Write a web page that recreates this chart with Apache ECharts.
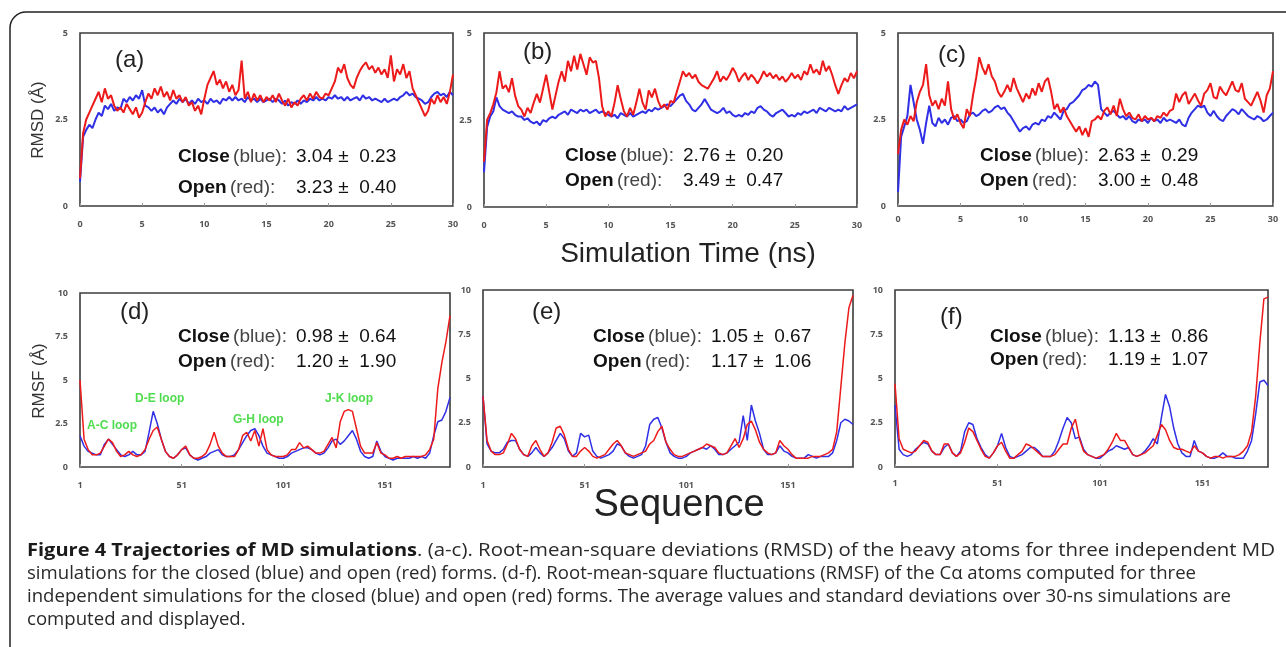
<!DOCTYPE html>
<html>
<head>
    <meta charset="utf-8">
    <title>Figure 4 Trajectories of MD simulations</title>
    <script src="https://cdn.jsdelivr.net/npm/echarts@6/dist/echarts.min.js"></script>
    <style>
        body { margin: 0; background: #fff; }
        #main { width: 1286px; height: 647px; }
    </style>
</head>
<body>
<div id="main"></div>
<script type="text/javascript">
    // RMSD, one sample every 0.25 ns, t = 0 .. 30
    var SAMPLE_NS = 0.25;
    var rmsdCloseA = [0.7,
        2.0, 2.2, 2.35, 2.25, 2.5, 2.7, 2.6, 2.9,
        2.8, 2.95, 2.75, 2.85, 2.8, 3.1, 3.0, 3.15,
        3.05, 3.2, 3.1, 3.35, 2.9, 2.85, 2.75, 2.85,
        2.7, 2.8, 2.65, 2.85, 2.95, 3.05, 2.95, 3.1,
        3.0, 3.1, 2.95, 3.05, 2.95, 3.1, 3.0, 3.05,
        2.95, 3.1, 3.0, 3.05, 2.95, 3.1, 3.05, 3.15,
        3.05, 3.15, 3.05, 3.1, 3.0, 3.15, 3.05, 3.1,
        3.0, 3.1, 3.0, 3.05, 3.1, 3.0, 3.1, 3.05,
        2.95, 3.05, 2.9, 3.0, 2.95, 3.05, 2.95, 3.05,
        3.0, 3.1, 3.05, 3.15, 3.05, 3.1, 3.05, 3.15,
        3.1, 3.2, 3.1, 3.15, 3.05, 3.15, 3.05, 3.1,
        3.15, 3.05, 3.2, 3.1, 3.15, 3.05, 3.1, 3.05,
        3.0, 3.1, 3.0, 3.05, 3.1, 3.05, 3.15, 3.2,
        3.3, 3.2, 3.25, 3.15, 3.1, 3.05, 2.95, 3.0,
        3.15, 3.25, 3.3, 3.2, 3.25, 3.15, 3.3, 3.2];
    var rmsdOpenA = [0.8,
        2.1, 2.5, 2.7, 2.9, 3.1, 3.3, 3.0, 3.4,
        3.1, 3.2, 2.9, 2.75, 2.85, 2.7, 2.95, 2.8,
        2.65, 2.85, 2.55, 2.7, 3.0, 3.25, 3.1, 3.4,
        3.2, 3.45, 3.15, 3.3, 3.05, 3.35, 3.1, 3.2,
        3.0, 3.15, 2.9, 3.0, 2.75, 2.9, 2.65, 3.1,
        3.5, 3.7, 3.9, 3.5, 3.65, 3.4, 3.6, 3.3,
        3.5, 3.2, 3.35, 4.2, 3.1, 3.3, 3.0, 3.25,
        3.05, 3.2, 3.0, 3.15, 3.05, 3.2, 3.0, 3.25,
        3.05, 2.9, 3.1, 2.85, 3.0, 2.9, 3.1, 3.2,
        3.05, 3.25, 3.1, 3.3, 3.15, 3.1, 3.25, 3.2,
        3.4, 3.6, 4.0, 3.85, 4.1, 3.7, 3.5, 3.4,
        3.7, 3.9, 4.05, 4.15, 3.95, 4.05, 3.85, 4.0,
        3.8, 3.95, 3.7, 4.35, 3.6, 3.95, 3.8, 4.1,
        3.7, 3.9, 3.4, 3.2, 3.0, 2.8, 2.6, 2.75,
        3.1, 2.95, 3.2, 3.0, 3.15, 2.95, 3.3, 3.8];
    var rmsdCloseB = [1.0,
        2.3, 2.6, 2.75, 3.15, 2.9, 2.8, 2.75, 2.7,
        2.75, 2.65, 2.6, 2.6, 2.5, 2.55, 2.45, 2.4,
        2.45, 2.35, 2.5, 2.45, 2.55, 2.6, 2.55, 2.65,
        2.7, 2.75, 2.65, 2.8, 2.75, 2.7, 2.8, 2.75,
        2.8, 2.7, 2.75, 2.8, 2.7, 2.75, 2.7, 2.65,
        2.6, 2.65, 2.55, 2.7, 2.65, 2.6, 2.7, 2.6,
        2.65, 2.7, 2.75, 2.7, 2.8, 2.75, 2.85, 2.8,
        2.85, 2.9, 2.95, 2.9, 3.0, 3.1, 3.2, 3.25,
        3.05, 2.95, 2.8, 2.75, 2.85, 2.95, 3.1, 2.95,
        2.8, 2.75, 2.7, 2.75, 2.85, 2.7, 2.75, 2.65,
        2.6, 2.65, 2.6, 2.7, 2.65, 2.75, 2.7, 2.85,
        2.9, 2.8, 2.75, 2.65, 2.6, 2.7, 2.75, 2.8,
        2.7, 2.6, 2.65, 2.6, 2.7, 2.65, 2.75, 2.7,
        2.75, 2.8, 2.7, 2.85, 2.8, 2.75, 2.85, 2.8,
        2.75, 2.8, 2.75, 2.9, 2.8, 2.85, 2.9, 2.95];
    var rmsdOpenB = [1.3,
        2.5, 2.7, 2.95, 3.3, 3.9, 3.4, 3.5, 3.3,
        3.7, 3.2, 2.9, 2.8, 2.6, 2.85, 2.7, 3.0,
        3.25, 3.0, 3.4, 3.8, 3.3, 2.8, 3.2, 3.6,
        3.9, 3.6, 4.2, 3.9, 4.35, 3.95, 4.4, 4.1,
        3.8, 4.3, 4.15, 4.2, 3.7, 2.9, 2.6, 2.75,
        2.6, 3.0, 3.5, 3.1, 2.75, 2.6, 2.85, 2.65,
        3.0, 3.4, 3.0, 2.8, 3.35, 3.15, 3.4, 3.05,
        2.85, 2.95, 2.8, 3.05, 3.0, 3.3, 3.6, 3.9,
        3.75, 3.85, 3.7, 3.8, 3.6, 3.5, 3.45, 3.4,
        3.55, 3.7, 3.9, 3.6, 3.75, 3.65, 3.8, 4.0,
        3.85, 3.6, 3.75, 3.85, 3.65, 3.8, 3.7, 3.55,
        3.7, 3.9, 3.75, 3.85, 3.7, 3.8, 3.65, 3.75,
        3.6, 3.7, 3.85, 3.7, 3.8, 3.65, 3.9, 3.8,
        4.1, 3.85, 3.95, 3.8, 4.2, 3.9, 4.05, 3.8,
        3.5, 3.25, 3.5, 3.7, 3.6, 3.85, 3.7, 3.9];
    var rmsdCloseC = [0.4,
        2.0, 2.3, 2.6, 3.5, 3.0, 2.5, 2.2, 1.8,
        2.4, 2.9, 2.4, 2.3, 2.55, 2.4, 2.5, 2.35,
        2.55, 2.6, 2.45, 2.5, 2.4, 2.45, 2.65, 2.7,
        2.6, 2.65, 2.75, 2.8, 2.7, 2.75, 2.85, 2.9,
        2.8, 2.85, 2.7, 2.6, 2.45, 2.3, 2.15, 2.25,
        2.3, 2.2, 2.35, 2.4, 2.35, 2.5, 2.45, 2.6,
        2.55, 2.7, 2.6, 2.5, 2.75, 2.8, 2.95, 3.0,
        3.1, 3.2, 3.35, 3.4, 3.5, 3.45, 3.6, 3.5,
        2.8, 2.7, 2.6, 2.7, 2.75, 2.65, 2.55, 2.6,
        2.5, 2.6, 2.45, 2.4, 2.5, 2.45, 2.5, 2.4,
        2.55, 2.45, 2.5, 2.4, 2.55, 2.45, 2.5, 2.45,
        2.4, 2.5, 2.35, 2.3, 2.55, 2.7, 2.8, 2.9,
        2.85, 2.9, 2.7, 2.6, 2.75, 2.6, 2.5, 2.45,
        2.6, 2.7, 2.8, 2.75, 2.65, 2.8, 2.7, 2.6,
        2.55, 2.5, 2.6, 2.55, 2.45, 2.5, 2.6, 2.7];
    var rmsdOpenC = [1.5,
        2.2, 2.5, 2.35, 2.6, 2.45, 3.0, 3.3, 3.5,
        4.1, 3.2, 2.9, 3.05, 2.8, 3.1, 2.9, 3.6,
        2.8, 2.5, 2.65, 2.4, 2.25, 2.8, 2.6, 3.2,
        3.7, 4.3, 4.0, 3.8, 4.1, 3.75, 3.6, 3.3,
        3.15, 3.3, 3.5, 3.3, 3.7, 3.4, 3.2, 3.0,
        3.25, 3.1, 3.4, 3.2, 3.55, 3.3, 3.6, 3.7,
        3.3, 2.8, 2.95, 2.7, 2.85, 2.6, 2.45, 2.3,
        2.15, 2.3, 2.05, 2.25, 2.0, 2.45, 2.5, 2.6,
        2.5, 2.75, 2.85, 2.65, 2.9, 2.6, 3.1, 2.8,
        2.6, 2.7, 2.55, 2.5, 2.65, 2.45, 2.6, 2.5,
        2.55, 2.45, 2.6, 2.55, 2.7, 2.6, 2.75, 2.8,
        3.25, 3.0, 3.2, 3.3, 2.95, 3.1, 3.25, 3.05,
        2.9, 3.25, 3.35, 3.55, 3.15, 3.1, 3.45, 3.3,
        3.2, 3.4, 3.6, 3.35, 3.3, 3.55, 3.1, 3.0,
        2.9, 3.1, 3.3, 3.05, 2.7, 3.2, 3.4, 3.9];

    // RMSF, every second residue, residue 1 .. 183
    var RES_FIRST = 1, RES_STEP = 2;
    var rmsfCloseD = [1.8, 1.2, 0.9, 0.8, 0.7, 0.7, 1.3, 1.6, 1.3, 1.0,
        0.7, 0.6, 0.7, 0.9, 0.7, 0.7, 0.9, 2.0, 3.2, 2.5,
        1.6, 0.9, 0.6, 0.5, 0.7, 1.0, 1.1, 0.7, 0.5, 0.4,
        0.5, 0.6, 0.8, 0.9, 1.0, 0.7, 0.6, 0.6, 0.7, 1.0,
        1.4, 1.8, 2.1, 2.2, 1.8, 1.2, 0.8, 0.7, 0.6, 0.5,
        0.5, 0.6, 0.8, 0.9, 1.0, 1.1, 1.1, 1.0, 0.8, 0.7,
        0.8, 1.1, 1.5, 1.6, 1.3, 1.5, 1.8, 2.1, 1.6, 0.9,
        0.6, 0.5, 0.6, 1.5, 0.9, 0.6, 0.5, 0.4, 0.5, 0.5,
        0.5, 0.5, 0.6, 0.5, 0.6, 0.5, 0.8, 1.8, 2.6, 2.7,
        3.2, 4.0];
    var rmsfOpenD = [5.0, 1.6, 1.0, 0.7, 0.7, 0.8, 1.2, 1.6, 1.4, 0.9,
        0.6, 0.7, 0.9, 0.7, 0.6, 0.7, 1.0, 1.6, 2.1, 2.3,
        1.6, 0.9, 0.6, 0.5, 0.7, 1.0, 1.2, 0.7, 0.5, 0.5,
        0.6, 0.8, 1.3, 2.0, 1.2, 0.8, 0.6, 0.6, 0.6, 1.0,
        1.8, 2.0, 1.5, 2.1, 1.2, 2.2, 1.0, 0.7, 0.6, 0.6,
        0.6, 0.7, 1.0, 1.0, 1.4, 1.1, 1.2, 1.0, 0.8, 0.8,
        0.9, 1.3, 1.7, 1.1, 2.6, 3.2, 3.3, 3.2, 2.2, 1.2,
        0.8, 0.8, 0.8, 1.4, 0.8, 0.7, 0.5, 0.5, 0.6, 0.5,
        0.6, 0.6, 0.6, 0.6, 0.6, 0.7, 1.0, 1.6, 4.5, 6.0,
        7.2, 8.7];
    var rmsfCloseE = [4.0, 1.3, 0.9, 0.8, 0.8, 1.0, 1.4, 1.5, 1.5, 1.0,
        0.7, 0.6, 0.8, 1.1, 0.8, 0.6, 0.8, 1.1, 1.5, 1.9,
        1.6, 0.9, 0.6, 0.8, 1.9, 1.7, 1.8, 0.9, 0.6, 0.5,
        0.6, 0.7, 0.9, 1.3, 1.2, 0.8, 0.6, 0.5, 0.6, 0.7,
        1.2, 2.4, 2.7, 2.8, 2.2, 1.4, 0.8, 0.6, 0.5, 0.5,
        0.6, 0.8, 0.9, 1.0, 1.1, 1.0, 1.2, 1.0, 0.7, 0.7,
        0.8, 1.0, 1.2, 1.4, 2.9, 1.5, 3.5, 2.6, 1.9, 1.0,
        0.7, 0.7, 0.8, 1.2, 0.9, 0.8, 0.6, 0.5, 0.5, 0.5,
        0.7, 0.6, 0.5, 0.6, 0.6, 0.6, 0.8, 1.5, 2.5, 2.7,
        2.6, 2.4];
    var rmsfOpenE = [4.0, 1.5, 0.9, 0.7, 0.7, 0.8, 1.3, 1.9, 1.6, 1.0,
        0.7, 0.6, 1.2, 1.5, 1.0, 0.6, 0.8, 1.4, 2.2, 2.3,
        1.8, 1.0, 0.6, 0.6, 0.9, 1.1, 0.9, 0.6, 0.5, 0.6,
        0.7, 1.0, 1.3, 1.5, 1.2, 0.8, 0.7, 0.6, 0.7, 0.8,
        0.9, 1.3, 1.5, 2.0, 2.3, 1.4, 1.0, 0.7, 0.6, 0.6,
        0.7, 0.8, 0.9, 1.0, 1.1, 1.3, 1.2, 1.1, 0.8, 0.7,
        0.8, 1.2, 1.6, 1.1, 1.6, 2.4, 2.6, 2.1, 1.4, 1.0,
        0.8, 0.7, 0.8, 1.5, 1.2, 1.0, 0.7, 0.5, 0.5, 0.5,
        0.5, 0.6, 0.6, 0.6, 0.7, 0.8, 1.0, 2.0, 4.5, 7.0,
        9.0, 9.7];
    var rmsfCloseF = [3.5, 1.0, 0.7, 0.6, 0.7, 1.0, 1.2, 1.4, 1.3, 0.9,
        0.7, 0.7, 1.1, 1.3, 0.8, 0.6, 0.9, 2.0, 2.5, 2.4,
        1.6, 1.1, 0.7, 0.5, 0.8, 1.2, 1.9, 1.1, 0.6, 0.5,
        0.6, 0.7, 0.9, 1.1, 1.1, 0.9, 0.6, 0.6, 0.6, 0.9,
        1.5, 2.2, 2.8, 2.5, 1.6, 1.7, 1.0, 0.7, 0.6, 0.5,
        0.5, 0.7, 0.9, 1.0, 1.2, 1.1, 1.0, 1.1, 0.7, 0.6,
        0.7, 0.9, 1.2, 1.6, 1.3, 2.8, 4.1, 3.4, 2.2, 1.3,
        0.8, 0.6, 0.6, 1.5, 0.9, 0.8, 0.6, 0.5, 0.5, 0.6,
        0.8, 0.6, 0.6, 0.5, 0.5, 0.5, 0.9, 1.5, 3.0, 4.8,
        4.9, 4.6];
    var rmsfOpenF = [4.7, 1.6, 1.0, 0.9, 0.8, 0.9, 1.2, 1.5, 1.4, 0.9,
        0.7, 0.7, 1.3, 1.3, 0.8, 0.6, 0.8, 1.4, 2.2, 2.0,
        1.5, 1.0, 0.6, 0.5, 0.8, 1.2, 1.4, 0.9, 0.5, 0.5,
        0.7, 0.9, 1.3, 1.2, 1.0, 0.8, 0.6, 0.6, 0.6, 0.7,
        1.0, 1.3, 1.3, 2.2, 2.7, 1.6, 0.9, 0.7, 0.6, 0.5,
        0.6, 0.7, 1.0, 1.4, 1.9, 1.5, 1.5, 1.1, 0.7, 0.6,
        0.7, 0.8, 1.0, 1.2, 1.8, 2.4, 2.1, 1.5, 1.1, 1.0,
        1.0, 0.9, 0.8, 1.2, 0.9, 0.8, 0.6, 0.5, 0.6, 0.6,
        0.5, 0.6, 0.6, 0.6, 0.7, 0.9, 1.2, 2.0, 4.0, 7.0,
        9.5, 9.6];

    // text shown in the panels
    var panelLetters = ['(a)', '(b)', '(c)', '(d)', '(e)', '(f)'];
    var closeStats = ['3.04 \u00b1  0.23', '2.76 \u00b1  0.20', '2.63 \u00b1  0.29',
        '0.98 \u00b1  0.64', '1.05 \u00b1  0.67', '1.13 \u00b1  0.86'];
    var openStats = ['3.23 \u00b1  0.40', '3.49 \u00b1  0.47', '3.00 \u00b1  0.48',
        '1.20 \u00b1  1.90', '1.17 \u00b1  1.06', '1.19 \u00b1  1.07'];
    var loopNames = ['A-C loop', 'D-E loop', 'G-H loop', 'J-K loop'];
    var captionBold = 'Figure 4 Trajectories of MD simulations';
    var captionLines = [
        '. (a-c). Root-mean-square deviations (RMSD) of the heavy atoms for three independent MD',
        'simulations for the closed (blue) and open (red) forms. (d-f). Root-mean-square fluctuations (RMSF) of the C\u03b1 atoms computed for three',
        'independent simulations for the closed (blue) and open (red) forms. The average values and standard deviations over 30-ns simulations are',
        'computed and displayed.'
    ];

    var BLUE = '#2f2fe6', RED = '#ec1a1a';

    function timePairs(vals) {
        return vals.map(function (v, i) { return [i * SAMPLE_NS, v]; });
    }
    function resPairs(vals) {
        return vals.map(function (v, i) { return [RES_FIRST + i * RES_STEP, v]; });
    }

    var grids = [
        {left: 80, top: 33, width: 373, height: 173},
        {left: 484, top: 33, width: 373, height: 174},
        {left: 898, top: 33, width: 375, height: 173},
        {left: 80, top: 293, width: 370, height: 174},
        {left: 483, top: 290, width: 370, height: 177},
        {left: 895, top: 290, width: 373, height: 177}
    ];
    grids.forEach(function (gr) {
        gr.show = true;
        gr.borderColor = '#3c3c3c';
        gr.borderWidth = 1.6;
        gr.containLabel = false;
    });
    var xLabelMargin = [14, 14, 9, 14, 14, 12];

    var tickFont = {fontFamily: 'Open Sans', fontSize: 9, color: '#555', fontWeight: 'bold'};
    var xAxes = [], yAxes = [];
    for (var k = 0; k < 6; k++) {
        var isTop = k < 3;
        xAxes.push({
            type: 'value', gridIndex: k,
            min: isTop ? 0 : RES_FIRST, max: isTop ? 30 : 183, interval: isTop ? 5 : 50,
            axisLine: {show: false},
            axisTick: {show: true, inside: true, length: 3, lineStyle: {color: '#999'}},
            axisLabel: Object.assign({margin: xLabelMargin[k], showMaxLabel: isTop}, tickFont),
            splitLine: {show: false}
        });
        yAxes.push({
            type: 'value', gridIndex: k,
            min: 0, max: isTop ? 5 : 10, interval: 2.5,
            axisLine: {show: false},
            axisTick: {show: false},
            axisLabel: Object.assign({margin: 12}, tickFont),
            splitLine: {show: false}
        });
    }

    var pairsList = [
        [rmsdCloseA, rmsdOpenA], [rmsdCloseB, rmsdOpenB], [rmsdCloseC, rmsdOpenC],
        [rmsfCloseD, rmsfOpenD], [rmsfCloseE, rmsfOpenE], [rmsfCloseF, rmsfOpenF]
    ];
    var series = [];
    pairsList.forEach(function (p, i) {
        var conv = i < 3 ? timePairs : resPairs;
        var w = i < 3 ? 2 : 1.5;
        series.push({type: 'line', name: 'Close', xAxisIndex: i, yAxisIndex: i, data: conv(p[0]),
            showSymbol: false, symbol: 'none', lineStyle: {color: BLUE, width: w}, z: 2});
        series.push({type: 'line', name: 'Open', xAxisIndex: i, yAxisIndex: i, data: conv(p[1]),
            showSymbol: false, symbol: 'none', lineStyle: {color: RED, width: w}, z: 3});
    });

    // in-panel text
    var gfx = [];
    var letterPos = [[115, 60], [523, 52], [938, 55], [120, 312], [532, 312], [940, 317]];
    letterPos.forEach(function (p, i) {
        gfx.push({type: 'text', x: p[0], y: p[1], z: 10,
            style: {text: panelLetters[i], fontFamily: 'Liberation Sans', fontSize: 24, fill: '#222',
                verticalAlign: 'middle'}});
    });
    var statPos = [[178, 157, 188], [565, 156, 181], [980, 156, 181],
        [178, 337, 362], [593, 337, 362], [990, 337, 360]];
    var NUM_OFFSET = 118;
    var rich = {
        b: {fontFamily: 'Liberation Sans', fontSize: 19, fontWeight: 'bold', fill: '#111'},
        p: {fontFamily: 'Liberation Sans', fontSize: 19, fill: '#444'}
    };
    statPos.forEach(function (p, i) {
        gfx.push({type: 'text', x: p[0], y: p[1], z: 10,
            style: {text: '{b|Close} {p|(blue):}', rich: rich, verticalAlign: 'middle'}});
        gfx.push({type: 'text', x: p[0] + NUM_OFFSET, y: p[1], z: 10,
            style: {text: closeStats[i], fontFamily: 'Liberation Sans', fontSize: 19, fill: '#111', verticalAlign: 'middle'}});
        gfx.push({type: 'text', x: p[0], y: p[2], z: 10,
            style: {text: '{b|Open} {p|(red):}', rich: rich, verticalAlign: 'middle'}});
        gfx.push({type: 'text', x: p[0] + NUM_OFFSET, y: p[2], z: 10,
            style: {text: openStats[i], fontFamily: 'Liberation Sans', fontSize: 19, fill: '#111', verticalAlign: 'middle'}});
    });
    var loopPos = [[87, 426], [135, 399], [233, 420], [325, 399]];
    loopPos.forEach(function (p, i) {
        gfx.push({type: 'text', x: p[0], y: p[1], z: 10,
            style: {text: loopNames[i], fontFamily: 'Liberation Sans', fontSize: 12, fontWeight: 'bold',
                fill: '#4fdc4f', verticalAlign: 'middle'}});
    });

    // axis titles
    gfx.push({type: 'text', x: 38, y: 120, rotation: Math.PI / 2, z: 10,
        style: {text: 'RMSD (\u00c5)', fontFamily: 'Liberation Sans', fontSize: 17, fill: '#333', align: 'center', verticalAlign: 'middle'}});
    gfx.push({type: 'text', x: 39, y: 381, rotation: Math.PI / 2, z: 10,
        style: {text: 'RMSF (\u00c5)', fontFamily: 'Liberation Sans', fontSize: 17, fill: '#333', align: 'center', verticalAlign: 'middle'}});
    gfx.push({type: 'text', x: 688, y: 254, z: 10,
        style: {text: 'Simulation Time (ns)', fontFamily: 'Liberation Sans', fontSize: 28, fill: '#222', align: 'center', verticalAlign: 'middle'}});
    gfx.push({type: 'text', x: 679, y: 506, z: 10,
        style: {text: 'Sequence', fontFamily: 'Liberation Sans', fontSize: 38, fill: '#222', align: 'center', verticalAlign: 'middle'}});

    // caption, squeezed to the condensed width of the original
    var capFont = 'Open Sans';
    var capSize = 18;
    var CAP_LEFT = 27, CAP_BOLD_END = 417, CAP_LINE1_END = 1275, CAP_LINE3_END = 1231;
    var mctx = document.createElement('canvas').getContext('2d');
    mctx.font = 'bold ' + capSize + 'px "' + capFont + '"';
    var boldScale = (CAP_BOLD_END - CAP_LEFT) / mctx.measureText(captionBold).width;
    mctx.font = capSize + 'px "' + capFont + '"';
    var textScale = (CAP_LINE3_END - CAP_LEFT) / mctx.measureText(captionLines[2]).width;
    // first line is justified out to the right margin
    var line1Scale = (CAP_LINE1_END - CAP_BOLD_END) / mctx.measureText(captionLines[0]).width;
    var capY = [551, 574, 597, 620];
    gfx.push({type: 'text', x: CAP_LEFT, y: capY[0], scaleX: boldScale, z: 10,
        style: {text: captionBold, fontFamily: capFont, fontSize: capSize, fontWeight: 'bold',
            fill: '#1a1a1a', verticalAlign: 'middle'}});
    captionLines.forEach(function (line, i) {
        gfx.push({type: 'text', x: i === 0 ? CAP_BOLD_END : CAP_LEFT, y: capY[i],
            scaleX: i === 0 ? line1Scale : textScale, z: 10,
            style: {text: line, fontFamily: capFont, fontSize: capSize, fill: '#2a2a2a', verticalAlign: 'middle'}});
    });

    // outer frame
    gfx.push({type: 'rect', z: 1, shape: {x: 10, y: 12, width: 1400, height: 800, r: 16},
        style: {fill: 'none', stroke: '#222', lineWidth: 1.5}});

    var myChart = echarts.init(document.getElementById('main'));
    myChart.setOption({
        animation: false,
        backgroundColor: '#fff',
        grid: grids,
        xAxis: xAxes,
        yAxis: yAxes,
        series: series,
        graphic: gfx
    });
</script>
</body>
</html>
